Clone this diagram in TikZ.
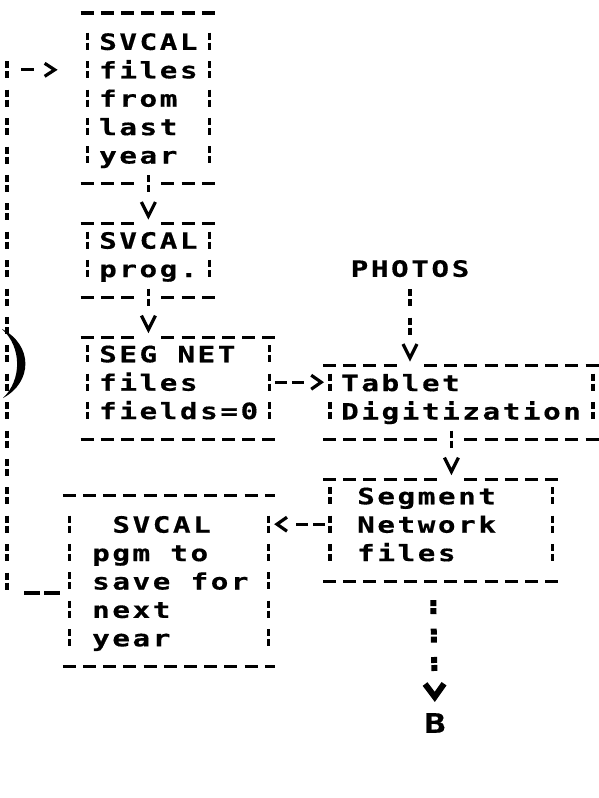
\documentclass[tikz,border=0pt]{standalone}
\usepackage{fontspec}
\usetikzlibrary{arrows.meta}
\newfontfamily\ascii{DejaVu Sans Mono}[FakeStretch=1.3,LetterSpace=11.5,BoldFeatures={FakeBold=0.5}]
\newcommand\asciitext{\ascii\bfseries\fontsize{22.5}{28.4}\selectfont}
\begin{document}
\begin{tikzpicture}[x=1pt,y=-1pt,
  txt/.style={font=\asciitext, inner sep=0pt, anchor=north west, align=left},
  lbl/.style={font=\asciitext, inner sep=0pt},
  frame/.style={rectangle, draw=none, inner sep=0pt},
  hd/.style={line width=3.4pt, dash pattern=on 13pt off 7.2pt, shorten <=-7pt, shorten >=-7pt},
  gapA/.style={hd, dash pattern=on 13pt off 7.2pt on 13pt off 7.2pt on 13pt off 27.4pt on 13pt off 7.2pt on 13pt off 7.2pt on 13pt off 7.2pt on 13pt off 7.2pt on 13pt off 7.2pt on 13pt off 7.2pt on 13pt off 100pt},
  gapB/.style={hd, dash pattern=on 13pt off 7.2pt on 13pt off 7.2pt on 13pt off 7.2pt on 13pt off 27.4pt on 13pt off 7.2pt on 13pt off 7.2pt on 13pt off 7.2pt on 13pt off 7.2pt on 13pt off 7.2pt on 13pt off 7.2pt on 13pt off 7.2pt on 13pt off 7.2pt on 13pt off 7.2pt on 13pt off 100pt},
  gapC/.style={hd, dash pattern=on 13pt off 7.2pt on 13pt off 7.2pt on 13pt off 7.2pt on 13pt off 7.2pt on 13pt off 7.2pt on 13pt off 27.4pt on 13pt off 7.2pt on 13pt off 7.2pt on 13pt off 7.2pt on 13pt off 7.2pt on 13pt off 7.2pt on 13pt off 7.2pt on 13pt off 7.2pt on 13pt off 100pt},
  vd/.style={line width=3.2pt, dash pattern=on 7pt off 3pt on 7pt off 11.4pt},
  vtip/.style={-{Straight Barb[length=14pt,width=14pt]}},
  down/.style={vtip, line width=3.2pt, dash pattern=on 7pt off 3pt on 7pt off 100pt, shorten <=-8.5pt, shorten >=4pt},
  photo/.style={vtip, line width=3.2pt, dash pattern=on 7pt off 3pt on 7pt off 11.4pt on 7pt off 3pt on 7pt off 100pt, shorten <=12pt, shorten >=4pt},
  side/.style={line width=3.2pt, dash pattern=on 12pt off 5pt on 12pt off 100pt, shorten <=5pt, shorten >=6pt, -{Straight Barb[length=10pt,width=14pt]}},
  dotline/.style={line width=6pt, dash pattern=on 6pt off 2pt on 6pt off 14.4pt on 6pt off 2pt on 6pt off 14.4pt on 6pt off 2pt on 6pt off 100pt, shorten <=19pt, shorten >=11pt, -{Straight Barb[length=13pt,width=19pt,line width=6pt]}},
]
\useasboundingbox (0,0) rectangle (598,798);

% frames
\node[frame, minimum width=121.2pt, minimum height=170.4pt] (b1) at (148.4,98.2) {};
\node[frame, minimum width=121.2pt, minimum height=73.2pt] (b2) at (148.4,260.4) {};
\node[frame, minimum width=181.8pt, minimum height=101.6pt] (b3) at (178.7,388.2) {};
\node[frame, minimum width=262.6pt, minimum height=73.2pt] (b4) at (461.5,402.4) {};
\node[frame, minimum width=222.2pt, minimum height=101.6pt] (b5) at (441.3,530.2) {};
\node[frame, minimum width=198pt, minimum height=170.4pt] (b6) at (169,581) {};

% horizontal edges
\draw[hd] (b1.north west) -- (b1.north east);
\draw[gapA] (b1.south west) -- (b1.south east);
\draw[gapA] (b2.north west) -- (b2.north east);
\draw[gapA] (b2.south west) -- (b2.south east);
\draw[gapA] (b3.north west) -- (b3.north east);
\draw[hd] (b3.south west) -- (b3.south east);
\draw[gapB] (b4.north west) -- (b4.north east);
\draw[gapC] (b4.south west) -- (b4.south east);
\draw[gapC] (b5.north west) -- (b5.north east);
\draw[hd] (b5.south west) -- (b5.south east);
\draw[hd] (b6.north west) -- (b6.north east);
\draw[hd] (b6.south west) -- (b6.south east);

% vertical edges
\foreach \b/\t in {b1/19.9,b2/7.9,b3/7.9,b4/7.9,b5/7.9,b6/19.9}{
  \draw[vd] ([yshift=-\t pt]\b.north west) -- ([yshift=19.9pt]\b.south west);
  \draw[vd] ([yshift=-\t pt]\b.north east) -- ([yshift=19.9pt]\b.south east);
}

% texts
\node[txt] (t1) at (99,33) {SVCAL\\files\\from\\last\\year};
\node[txt] (t2) at (99,231.8) {SVCAL\\prog.};
\node[txt] (t3) at (99,345.4) {SEG NET\\files\\fields=0};
\node[txt] (t4) at (341,373.8) {Tablet\\Digitization};
\node[txt] (t5) at (357,487.4) {Segment\\Network\\files};
\node[txt] (t6) at (92,515.8) {\hspace*{20.2pt}SVCAL\\pgm to\\save for\\next\\year};
\node[lbl] (photos) at (410,268.6) {PHOTOS};
\node[lbl, font=\ascii\bfseries\fontsize{27}{30}\selectfont] (pageB) at (435,723) {B};

% helper coordinates
\coordinate (r13) at (0,382.2);
\coordinate (r18) at (0,524.2);
\coordinate (x45) at (451.4,0);
\coordinate (xB) at (433,0);
\coordinate (lt) at (7,69.8);
\coordinate (lb) at (7,593);

% connectors
\draw[down] (b1.south) -- (b2.north);
\draw[down] (b2.south) -- (b2.south |- b3.north);
\draw[photo] (photos.south) -- (photos.south |- b4.north);
\draw[down] (b4.south -| x45) -- (b5.north -| x45);
\draw[side] (b3.east |- r13) -- (b4.west |- r13);
\draw[side] (b5.west |- r18) -- (b6.east |- r18);
\draw[dotline] (b5.south -| xB) -- (pageB.north);

% feedback loop
\draw[line width=3.2pt, dash pattern=on 16pt off 4pt on 16pt off 100pt, shorten <=10pt] (b6.west |- lb) -- (lb);
\draw[vd, shorten <=-8.5pt] (lt) -- (lb);
\draw[line width=3.2pt, dash pattern=on 13pt off 100pt, shorten <=14pt, shorten >=30pt, -{Straight Barb[length=10pt,width=13pt]}] (lt) -- (b1.west |- lt);

% hand-drawn bracket
\fill (2,329) .. controls (33,345) and (33,382) .. (3,398) .. controls (22,380) and (22,347) .. (2,329) -- cycle;
\end{tikzpicture}
\end{document}
